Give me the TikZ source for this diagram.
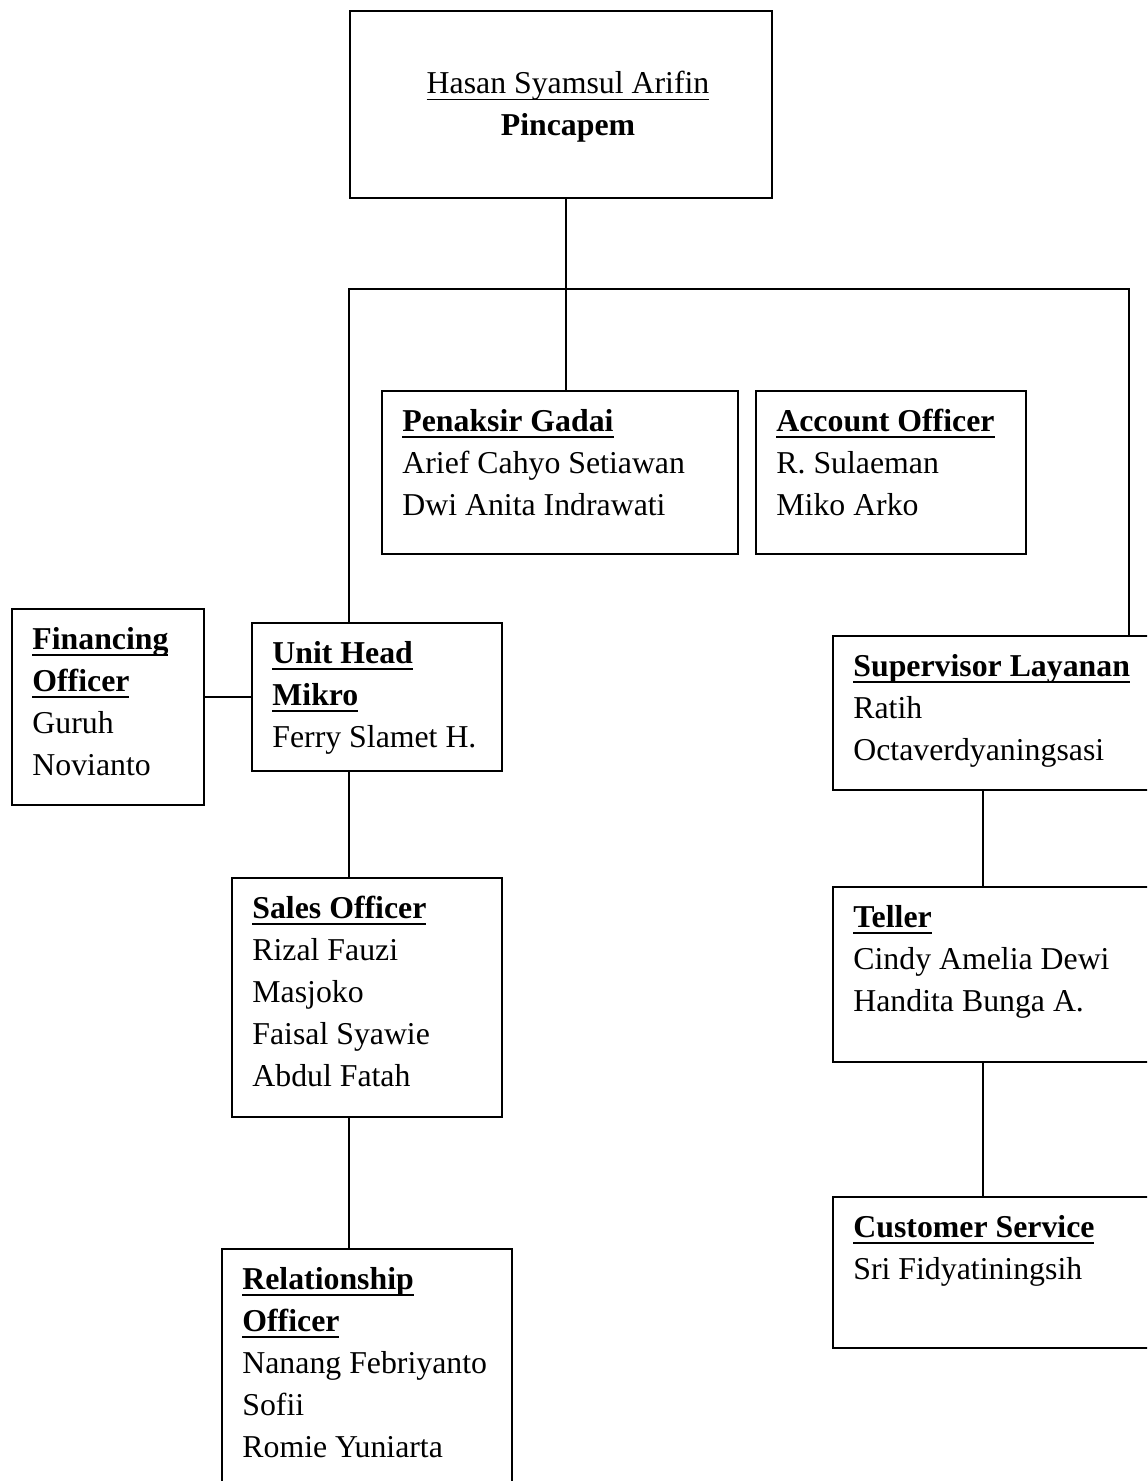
\documentclass[tikz,border=0pt]{standalone}
\usepackage{fontspec}
\setmainfont{Liberation Serif}
% underline with a fixed depth
\newsavebox{\kotakteks}
\newcommand{\garisbawah}[2]{\sbox\kotakteks{#2}\makebox[0pt][l]{\rule[\dimexpr-2.4pt-#1\relax]{\wd\kotakteks}{#1}}\usebox\kotakteks}
% jabatan (bold, underlined) and nama (underlined)
\newcommand{\jab}[1]{\textbf{\garisbawah{1.3pt}{#1}}}
\newcommand{\nama}[1]{\garisbawah{0.7pt}{#1}}
\newcommand{\daftar}[1]{\begin{tabular}[t]{@{}l@{}}#1\end{tabular}}
\tikzset{
	kotak/.style={draw, line width=1pt, anchor=north west, inner sep=0pt},
	teks/.style={inner sep=0pt, anchor=base west, font=\fontsize{15.9}{21}\selectfont},
	garis/.style={line width=1pt}
}
\begin{document}
\begin{tikzpicture}[x=0.5pt, y=-0.5pt]
		\clip (0,0) rectangle (1147,1481);
		
		% Draw the boxes
		\foreach \k/\x/\y/\w/\h in {pincapem/349/10/211/93.5, penaksir/381/390/178/81.5,
			ao/755/390/135/81.5, fo/11/608/96/98, uhm/251/622/125/74,
			so/231/877/135/119.5, ro/221/1248/145/130, spv/832/635/170/77,
			teller/832/886/170/87.5, cs/832/1196/170/75.5} {
				\node[kotak, minimum width=\w pt, minimum height=\h pt] (\k) at (\x,\y) {};
			}
		
		% Pimpinan
		\node[teks, anchor=base] (pincapem-t) at ([shift={(219,84)}]pincapem.north west)
		{\begin{tabular}[t]{@{}c@{}}\nama{Hasan Syamsul Arifin}\\ \textbf{Pincapem}\end{tabular}};
		
		% Jabatan and names in each box
		\foreach \k/\isi in {
			penaksir/{\jab{Penaksir Gadai}\\ Arief Cahyo Setiawan\\ Dwi Anita Indrawati},
			ao/{\jab{Account Officer}\\ R. Sulaeman\\ Miko Arko},
			fo/{\jab{Financing}\\ \jab{Officer}\\ Guruh\\ Novianto},
			uhm/{\jab{Unit Head}\\ \jab{Mikro}\\ Ferry Slamet H.},
			so/{\jab{Sales Officer}\\ Rizal Fauzi\\ Masjoko\\ Faisal Syawie\\ Abdul Fatah},
			ro/{\jab{Relationship}\\ \jab{Officer}\\ Nanang Febriyanto\\ Sofii\\ Romie Yuniarta},
			spv/{\jab{Supervisor Layanan}\\ Ratih\\ Octaverdyaningsasi},
			teller/{\jab{Teller}\\ Cindy Amelia Dewi\\ Handita Bunga A.},
			cs/{\jab{Customer Service}\\ Sri Fidyatiningsih}} {
				\node[teks] (\k-t) at ([shift={(21,41)}]\k.north west) {\daftar{\isi}};
			}
		
		% Branch points of the connectors
		\coordinate (cabang) at (566,289);
		\coordinate (kiri) at (349,289);
		\coordinate (kanan) at (1129,289);
		\coordinate (jalur) at (983,0);
		
		% Draw the connectors
		\draw[garis] (cabang |- pincapem.south) -- (cabang |- penaksir.north);
		\draw[garis] (kiri |- uhm.north) -- (kiri) -- (kanan) -- (kanan |- spv.north);
		\draw[garis] (fo.east |- uhm.west) -- (uhm.west);
		\draw[garis] (kiri |- uhm.south) -- (kiri |- so.north);
		\draw[garis] (kiri |- so.south) -- (kiri |- ro.north);
		\draw[garis] (jalur |- spv.south) -- (jalur |- teller.north);
		\draw[garis] (jalur |- teller.south) -- (jalur |- cs.north);
		
	\end{tikzpicture}
\end{document}
